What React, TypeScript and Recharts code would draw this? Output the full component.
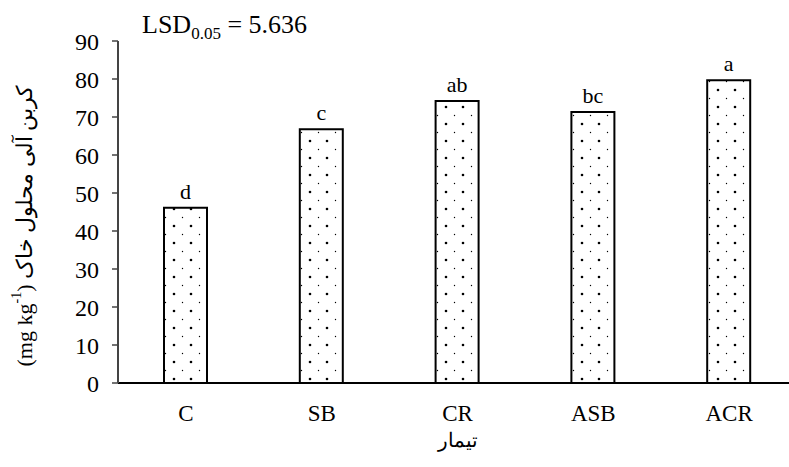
import React from 'react';
import { BarChart, Bar, XAxis, YAxis, LabelList, Label } from 'recharts';

const treatments = ['C', 'SB', 'CR', 'ASB', 'ACR'];
const carbonValues = [46.1, 66.8, 74.2, 71.3, 79.7];
const groupLetters = ['d', 'c', 'ab', 'bc', 'a'];
const yTicks = [0, 10, 20, 30, 40, 50, 60, 70, 80, 90];
const edgeTicks = [0, 1, 2, 3, 4, 5];

const FONT = 'Liberation Serif, Times New Roman, DejaVu Serif, serif';

const data = treatments.map((name, i) => ({
	name,
	value: carbonValues[i],
	letter: groupLetters[i],
}));

// rotated persian title with english unit, drawn from the axis box
const YTitle = (props: any) => {
	const { viewBox } = props;
	const cx = viewBox.x + 24;
	const cy = viewBox.y + viewBox.height / 2 + 14;
	return (
		<text
			x={cx}
			y={cy}
			transform={`rotate(-90, ${cx}, ${cy})`}
			textAnchor="middle"
			dominantBaseline="central"
			style={{ fontFamily: FONT }}
			fontSize={22}
			fill="#000"
		>
			<tspan>(mg kg</tspan>
			<tspan fontSize={14} dy={-8}>-1</tspan>
			<tspan dy={8}>) کربن آلی محلول خاک</tspan>
		</text>
	);
};

const XTitle = (props: any) => {
	const { viewBox } = props;
	return (
		<text
			x={viewBox.x + viewBox.width / 2}
			y={viewBox.y + 64}
			textAnchor="middle"
			style={{ fontFamily: FONT }}
			fontSize={20}
			fill="#000"
		>
			تیمار
		</text>
	);
};

const LsdNote = (props: any) => {
	const { viewBox } = props;
	return (
		<text x={viewBox.x + viewBox.width + 24} y={viewBox.y - 8} style={{ fontFamily: FONT }} fontSize={26} fill="#000">
			<tspan>LSD</tspan>
			<tspan fontSize={17} dy={6}>0.05</tspan>
			<tspan dy={-6}> = 5.636</tspan>
		</text>
	);
};

export default function App() {
	return (
		<div style={{ position: 'absolute', left: 0, top: 0, fontFamily: FONT }}>
			<BarChart
				width={810}
				height={467}
				data={data}
				margin={{ top: 41, right: 13, left: 0, bottom: 0 }}
				barSize={43}
				style={{ fontFamily: FONT }}
			>
				<defs>
					<pattern id="dots" width={17} height={17} patternUnits="userSpaceOnUse">
						<rect width={17} height={17} fill="#fff" />
						<circle cx={4} cy={5} r={1.3} fill="#000" />
						<circle cx={12.5} cy={13.5} r={0.7} fill="#000" />
					</pattern>
				</defs>
				<XAxis
					xAxisId="edges"
					type="number"
					domain={[0, 5]}
					ticks={edgeTicks}
					tick={false}
					tickSize={7}
					tickLine={{ stroke: '#000', strokeWidth: 1.5 }}
					axisLine={false}
					height={0}
				/>
				<XAxis
					xAxisId="cat"
					dataKey="name"
					height={84}
					tickLine={false}
					axisLine={{ stroke: '#000', strokeWidth: 2 }}
					tick={{ fill: '#000', fontFamily: FONT, fontSize: 23 }}
					dy={14}
				>
					<Label content={<XTitle />} />
				</XAxis>
				<YAxis
					width={118}
					domain={[0, 90]}
					ticks={yTicks}
					interval={0}
					tickSize={6}
					tickLine={{ stroke: '#444', strokeWidth: 1.5 }}
					axisLine={{ stroke: '#444', strokeWidth: 2 }}
					tick={{ fill: '#000', fontFamily: FONT, fontSize: 24 }}
					tickMargin={13}
				>
					<Label content={<YTitle />} />
					<Label content={<LsdNote />} />
				</YAxis>
				<Bar
					dataKey="value"
					xAxisId="cat"
					fill="url(#dots)"
					stroke="#000"
					strokeWidth={2}
					isAnimationActive={false}
				>
					<LabelList dataKey="letter" position="top" offset={9} fill="#000" fontFamily={FONT} fontSize={22} />
				</Bar>
			</BarChart>
		</div>
	);
}
